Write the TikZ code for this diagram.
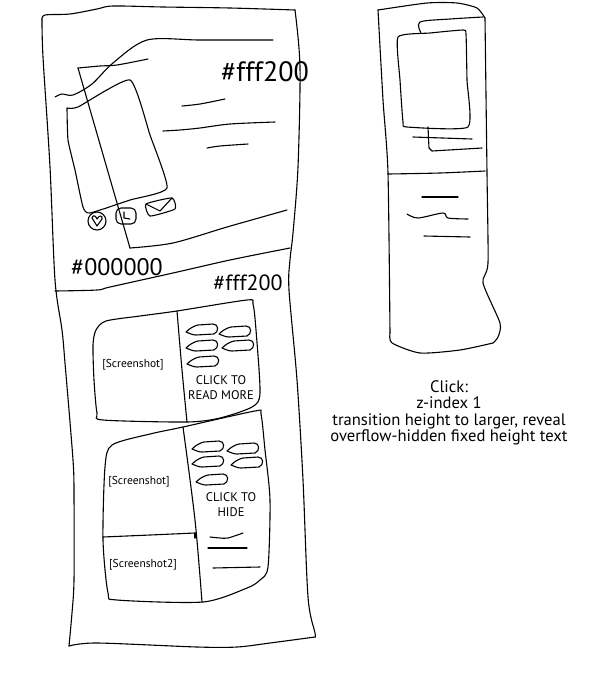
\documentclass[tikz,border=0pt]{standalone}
\usepackage{fontspec}
\setmainfont{PT Sans}
\tikzset{
  sk/.style={line width=1.1pt, line join=round, line cap=round},
  lbl/.style={inner sep=0pt, align=center},
  blob/.pic={\draw[sk] (-2,2) .. controls (2,-2) and (6,-4) .. (10,-5) -- (25,-6) .. controls (31,-6) and (31,2) .. (26,4) -- (8,5) .. controls (4,5) and (1,3) .. (-2,2) -- cycle;}
}
\begin{document}
\begin{tikzpicture}[x=1pt,y=-1pt]
\useasboundingbox (0,0) rectangle (589,681);
% ---- left big frame
\draw[sk] plot[smooth,tension=0.5] coordinates {(42,20) (45,15) (70,14) (97,9) (113,6) (163,7) (230,8) (295,10)};
\draw[sk] plot[smooth,tension=0.5] coordinates {(295,10) (300,67) (298,167) (293,233) (290,260) (289,290) (297,380) (303,480) (308,597) (315,633) (315,637)};
\draw[sk] plot[smooth,tension=0.5] coordinates {(315,637) (270,643) (237,647) (197,647) (97,643) (69,646)};
\draw[sk] plot[smooth,tension=0.5] coordinates {(69,646) (72,613) (74,580) (74,497) (73,460) (65,363) (62,330) (55,280) (50,167) (43,57) (42,20)};
% divider
\draw[sk] plot[smooth,tension=0.5] coordinates {(55,291) (97,290) (110,287) (173,273) (230,260) (290,248)};
% top wavy line
\draw[sk] plot[smooth,tension=0.5] coordinates {(55,97) (62,94) (73,95) (92,84) (113,63) (147,40) (200,40) (273,40)};
% tilted rectangle
\draw[sk] plot[smooth,tension=0.5] coordinates {(78,68) (100,66) (117,65) (148,59)};
\draw[sk] (78,68) -- (130,248);
\draw[sk] plot[smooth,tension=0.5] coordinates {(130,248) (173,243) (227,227) (287,210)};
% inner rectangle
\draw[sk] plot[smooth,tension=0.3] coordinates {(67,108) (78,107) (130,80) (150,135) (167,188) (130,200) (90,213) (83,207) (75,170) (68,140) (67,108)};
% text lines
\draw[sk] plot[smooth,tension=0.5] coordinates {(182,106) (200,104) (225,99)};
\draw[sk] plot[smooth,tension=0.5] coordinates {(163,131) (180,130) (200,128) (230,124) (275,122)};
\draw[sk] plot[smooth,tension=0.5] coordinates {(207,148) (220,146) (248,144)};
% icons
\draw[sk] (97,221) circle[radius=9];
\draw[sk] (92,218) .. controls (93,214) and (96,216) .. (97,219) .. controls (99,215) and (103,215) .. (102,219) -- (97,226);
\draw[sk] (92,218) -- (97,226);
\draw[sk, rounded corners=5pt] (116,208) rectangle (136,224);
\draw[sk] (124,212) -- (124,218) -- (130,219);
\draw[sk] plot[smooth cycle,tension=0.3] coordinates {(146,204) (172,198) (175,209) (150,216)};
\draw[sk] (146,204) -- (160,211) -- (172,198);
% labels top part
\node[lbl, font=\fontsize{28}{30}\selectfont] (c1) at (265,72) {\#fff200};
\node[lbl, font=\fontsize{24}{26}\selectfont] (c2) at (117,267) {\#000000};
\node[lbl, font=\fontsize{22}{24}\selectfont] (c3) at (248,283) {\#fff200};
% ---- box 1
\draw[sk] plot[smooth cycle,tension=0.45] coordinates {(97,413) (94,380) (93,345) (96,330) (106,321) (140,316) (177,311) (247,300) (253,304) (256,330) (260,393) (252,407) (220,418) (187,422) (103,420)};
\draw[sk] plot[smooth,tension=0.5] coordinates {(177,311) (182,370) (187,422)};
\pic at (188,330) {blob};
\pic at (221,332) {blob};
\pic at (188,346) {blob};
\pic at (224,346) {blob};
\pic at (189,362) {blob};
\node[lbl, font=\fontsize{11.5}{13}\selectfont] (s1) at (133,365) {[Screenshot]};
\node[lbl, font=\fontsize{12.5}{15}\selectfont] (r1) at (221,388) {CLICK TO\\READ MORE};
% ---- box 2
\draw[sk] plot[smooth cycle,tension=0.45] coordinates {(112,445) (150,434) (183,427) (255,411) (261,414) (265,450) (270,500) (268,567) (260,580) (247,588) (203,602) (117,600) (108,593) (103,540) (105,467)};
\draw[sk] plot[smooth,tension=0.5] coordinates {(183,427) (195,520) (202,602)};
\draw[sk] plot[smooth,tension=0.5] coordinates {(103,537) (150,535) (195,533)};
\draw[sk] (195,533) -- (195,538);
\pic at (194,447) {blob};
\pic at (229,449) {blob};
\pic at (194,462) {blob};
\pic at (233,463) {blob};
\pic at (198,480) {blob};
\node[lbl, font=\fontsize{11.5}{13}\selectfont] (s2) at (139,482) {[Screenshot]};
\node[lbl, font=\fontsize{11.5}{13}\selectfont] (s3) at (143,565) {[Screenshot2]};
\node[lbl, font=\fontsize{12.5}{15}\selectfont] (r2) at (231,505) {CLICK TO\\HIDE};
\draw[sk] plot[smooth,tension=0.5] coordinates {(210,537) (220,538) (228,538) (243,533)};
\draw[sk] (208,548) -- (247,548);
\draw[sk] (213,568) -- (260,567);
% ---- right phone
\draw[sk] plot[smooth,tension=0.4] coordinates {(378,10) (427,3) (457,3) (477,8) (485,18)};
\draw[sk] plot[smooth,tension=0.4] coordinates {(485,18) (487,173) (488,263) (483,283) (500,323) (498,337) (493,343)};
\draw[sk] plot[smooth,tension=0.4] coordinates {(493,343) (460,350) (420,353) (392,343) (390,333)};
\draw[sk] plot[smooth,tension=0.4] coordinates {(390,333) (388,173) (383,100) (378,10)};
\draw[sk] plot[smooth,tension=0.5] coordinates {(388,174) (440,173) (485,171)};
\draw[sk] plot[smooth,tension=0.5] coordinates {(421,33) (420,22) (450,19) (483,17)};
\draw[sk] plot[smooth cycle,tension=0.3] coordinates {(398,37) (430,33) (463,30) (466,34) (467,80) (468,127) (407,127) (403,122) (400,80)};
\draw[sk] (428,127) -- (429,148) -- (432,151) -- (482,148);
\draw[sk] (413,137) -- (472,139);
\draw[sk] (422,197) -- (458,197);
\draw[sk] plot[smooth,tension=0.5] coordinates {(407,214) (418,218) (443,213) (448,218) (468,219)};
\draw[sk] (424,236) -- (470,237);
% ---- note
\node[lbl, font=\fontsize{16.6}{16.4}\selectfont] (note) at (449,413) {Click:\\z-index 1\\transition height to larger, reveal\\overflow-hidden fixed height text};
\end{tikzpicture}
\end{document}
